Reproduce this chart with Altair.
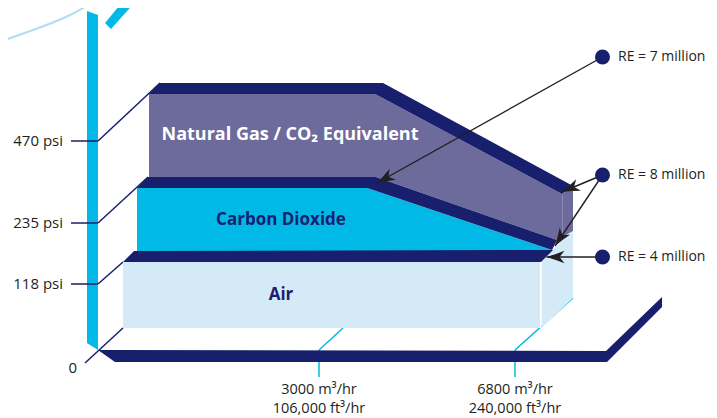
import math
import altair as alt
import pandas as pd

# ---------------- chart values ----------------
pressure_labels = ["470 psi", "235 psi", "118 psi"]
zero_label = "0"
flow_m3_labels = ["3000 m³/hr", "6800 m³/hr"]
flow_ft3_labels = ["106,000 ft³/hr", "240,000 ft³/hr"]
gas_names = ["Natural Gas / CO₂ Equivalent", "Carbon Dioxide", "Air"]
re_labels = ["RE = 7 million", "RE = 8 million", "RE = 4 million"]

# ---------------- layout (schematic infographic geometry, page pixels) ----------------
W, H = 701, 410
X0, Y0 = 8, 8
XS = alt.Scale(domain=[X0, X0 + W], nice=False, zero=False)
YS = alt.Scale(domain=[Y0, Y0 + H], nice=False, zero=False, reverse=True)

NAVY = "#181f6d"
PURPLE = "#6d6b9c"
CYAN = "#00b9e6"
AIR = "#d4ebf7"
ARC = "#b0def3"
GRAY = "#231f20"
TXTNAVY = "#1b2070"
FONT = "Open Sans"

tick_y = [141, 223, 284]          # 470, 235, 118 psi levels
tick_end = [(160, 83), (148, 177), (123, 262)]
flow_x = [319, 515]
flow_end = [(343, 328), (573, 298)]
dots = [(602.5, 57), (602.5, 175), (602.5, 257)]
arrow_tips = [[(377, 183)], [(562, 192), (555, 246)], [(546.5, 257)]]

polys = {
    "top_piece": ([(105, 23), (124, 0), (137, 0), (111, 29)], CYAN),
    "bar": ([(87, 11), (98, 15), (98, 350), (87, 343)], CYAN),
    "ng_face": ([(149, 94), (375, 94), (562, 194), (573, 187), (573, 231),
                 (557, 240), (376, 177), (149, 177)], PURPLE),
    "air_side": ([(541.5, 261), (552, 250), (573, 231), (573, 298), (541.5, 328)], AIR),
    "co2_face": ([(137, 188), (367, 188), (552, 250), (552, 251), (137, 251)], CYAN),
    "air_face": ([(123, 262), (540, 262), (540, 328), (123, 328)], AIR),
    "ng_band": ([(149, 94), (160, 83), (383, 83), (573, 186), (562, 194), (375, 94)], NAVY),
    "co2_band": ([(137, 188), (148, 177), (376, 177), (557, 240), (552, 250), (367, 188)], NAVY),
    "air_band": ([(123, 262), (134, 251), (553, 250), (541, 262)], NAVY),
    "base": ([(98, 350), (606, 351), (662, 297), (662, 307), (607, 362), (115, 362)], NAVY),
}


def poly_rows(pts):
    xs = sorted(set(p[0] for p in pts))
    n = len(pts)
    rows = []
    for x in xs:
        ys = []
        for i in range(n):
            (x1, y1), (x2, y2) = pts[i], pts[(i + 1) % n]
            if x1 == x2:
                if x1 == x:
                    ys += [y1, y2]
            elif min(x1, x2) <= x <= max(x1, x2):
                t = (x - x1) / (x2 - x1)
                ys.append(y1 + t * (y2 - y1))
        rows.append({"x": x, "y": min(ys), "y2": max(ys)})
    return pd.DataFrame(rows)


X = alt.X("x:Q", scale=XS, axis=None)
Y = alt.Y("y:Q", scale=YS, axis=None)


def area(key):
    pts, color = polys[key]
    return alt.Chart(poly_rows(pts)).mark_area(
        color=color, opacity=1, interpolate="linear", strokeWidth=0
    ).encode(x=X, y=Y, y2="y2:Q")


def rules(segs, color, width):
    df = pd.DataFrame(segs, columns=["x", "y", "x2", "y2"])
    return alt.Chart(df).mark_rule(color=color, strokeWidth=width).encode(
        x=X, y=Y, x2="x2:Q", y2="y2:Q")


def texts(rows, **kw):
    df = pd.DataFrame(rows, columns=["x", "y", "text"])
    return alt.Chart(df).mark_text(baseline="middle", font=FONT, **kw).encode(
        x=X, y=Y, text="text:N")


layers = []

# decorative arc at top-left
arc_df = pd.DataFrame({"x": [0, 33, 67, 97], "y": [41.7, 30, 16.5, 0]})
layers.append(alt.Chart(arc_df).mark_line(color=ARC, strokeWidth=2, interpolate="natural")
              .encode(x=X, y=Y))
layers.append(area("top_piece"))
layers.append(area("bar"))

# pressure ticks and connectors
seg = []
for ty, (ex, ey) in zip(tick_y, tick_end):
    seg.append((71, ty, 98, ty))
    seg.append((98, ty, ex, ey))
seg.append((85, 363, 123, 328))
layers.append(rules(seg, NAVY, 1.5))

# flow ticks
fseg = []
for fx, (ex, ey) in zip(flow_x, flow_end):
    fseg.append((fx, 350, fx, 377))
    fseg.append((fx, 350, ex, ey))
layers.append(rules(fseg, CYAN, 1.5))

for k in ["ng_face", "air_side", "co2_face", "air_face"]:
    layers.append(area(k))

layers.append(rules([(540.7, 262, 540.7, 328)], "#ffffff", 1.2))
layers.append(rules([(562.5, 195, 562.5, 238)], "#8a88b6", 1))

for k in ["ng_band", "co2_band", "air_band", "base"]:
    layers.append(area(k))

# arrows
aseg, heads = [], []
for (dx, dy), tips in zip(dots, arrow_tips):
    for (tx, ty) in tips:
        aseg.append((dx, dy, tx, ty))
        ang = math.degrees(math.atan2(ty - dy, tx - dx)) % 360
        heads.append({"x": tx, "y": ty, "angle": ang})
layers.append(rules(aseg, GRAY, 1.4))
ARROW = "M0,0 Q-1,-0.3 -2,-0.7 L-1.45,0 L-2,0.7 Q-1,0.3 0,0 Z"
layers.append(alt.Chart(pd.DataFrame(heads)).mark_point(
    shape=ARROW, size=324, filled=True, color=GRAY, opacity=1, strokeWidth=0
).encode(x=X, y=Y, angle=alt.Angle("angle:Q", scale=None)))
layers.append(alt.Chart(pd.DataFrame([{"x": d[0], "y": d[1]} for d in dots])).mark_circle(
    size=225, color=NAVY, opacity=1).encode(x=X, y=Y))

# texts
layers.append(texts([(618, d[1], t) for d, t in zip(dots, re_labels)],
                    align="left", fontSize=14, color=GRAY))
layers.append(texts([(63, ty, t) for ty, t in zip(tick_y, pressure_labels)] + [(77, 368, zero_label)],
                    align="right", fontSize=15, color=GRAY))
layers.append(texts([(fx, 390, t) for fx, t in zip(flow_x, flow_m3_labels)] +
                    [(fx, 409, t) for fx, t in zip(flow_x, flow_ft3_labels)],
                    align="center", fontSize=14.5, color=GRAY))
layers.append(texts([(290, 135, gas_names[0])], align="center", fontSize=18,
                    fontWeight="bold", color="#ffffff"))
layers.append(texts([(281, 220, gas_names[1]), (281, 295, gas_names[2])], align="center",
                    fontSize=17, fontWeight="bold", color=TXTNAVY))

chart = alt.layer(*layers).properties(
    width=W, height=H, padding=0, autosize=alt.AutoSizeParams(type="none")
).configure_view(stroke=None)

chart.save("out.html", embed_options={"renderer": "svg", "actions": False})
